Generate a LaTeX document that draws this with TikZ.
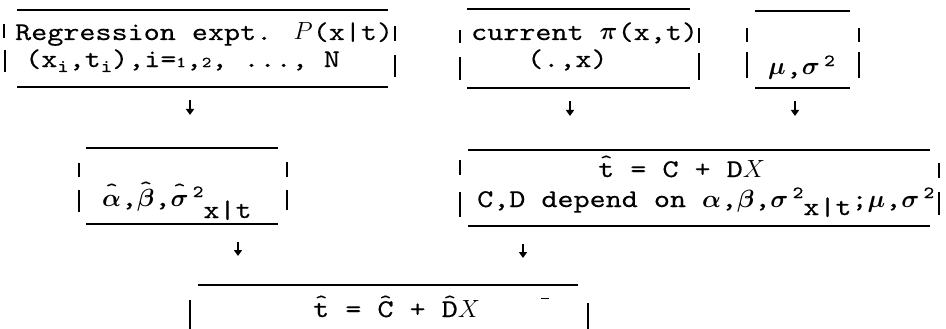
\documentclass[tikz,border=0pt]{standalone}
\usepackage{fontspec}
\usepackage{bm}
\usetikzlibrary{arrows.meta}
\newfontfamily\tw{lmmono10-regular.otf}[FakeStretch=1.2,FakeBold=0.3]
\newcommand\mysub[1]{\raisebox{-5pt}{\fontsize{18}{18}\selectfont #1}}
\newcommand\mysm[1]{{\fontsize{15}{15}\selectfont #1}}
\newcommand\tsup[1]{\raisebox{9pt}{\fontsize{17}{17}\selectfont #1}}
\newcommand\hh[2][9pt]{\ooalign{#2\cr\hidewidth\raisebox{#1}{\fontsize{20}{20}\selectfont\textasciicircum}\hidewidth\cr}}
\tikzset{
  hl/.style={line width=1.7pt},
  vb/.style={line width=2.2pt},
  arr/.style={line width=2.2pt,-{Triangle[length=6pt,width=8pt]}},
  txt/.style={anchor=base west,inner sep=0pt,font=\tw\fontsize{25.5}{30}\selectfont},
}
\begin{document}
\begin{tikzpicture}[x=1pt,y=-1pt]
\useasboundingbox (0,0) rectangle (946,329);
% box 1
\draw[hl] (17,10) -- (388,10);
\draw[hl] (17,87) -- (388,87);
\draw[vb] (4,24) -- (4,38);
\draw[vb] (5,50) -- (5,72);
\draw[vb] (395,26) -- (395,41);
\draw[vb] (395,55) -- (395,77);
\node[txt] (b1a) at (15,40) {Regression expt. $P$(x|t)};
\node[txt] (b1b) at (25,67) {(x\mysub{i},t\mysub{i}),i=\mysm{1},\mysm{2}, ..., N};
% box 2
\draw[hl] (467,9) -- (690,9);
\draw[hl] (467,88) -- (690,88);
\draw[vb] (460,30) -- (460,43);
\draw[vb] (460,57) -- (460,80);
\draw[vb] (699,28) -- (699,43);
\draw[vb] (699,53) -- (699,80);
\node[txt] (b2a) at (471,40) {current $\bm{\pi}$(x,t)};
\node[txt] (b2b) at (527,67) {(.,x)};
% box 3
\draw[hl] (755,11) -- (850,11);
\draw[hl] (755,88) -- (850,88);
\draw[vb] (747,28) -- (747,42);
\draw[vb] (747,52) -- (747,78);
\draw[vb] (859,28) -- (859,42);
\draw[vb] (859,52) -- (859,78);
\node[txt] (b3) at (768,75) {$\bm{\mu}$,$\bm{\sigma}$\,\tsup{2}};
% arrows
\coordinate (a1s) at (190,100); \coordinate (a1e) at (190,115);
\coordinate (a2s) at (570,101); \coordinate (a2e) at (570,116);
\coordinate (a3s) at (795,101); \coordinate (a3e) at (795,116);
\coordinate (a4s) at (238,242); \coordinate (a4e) at (238,256);
\coordinate (a5s) at (523,244); \coordinate (a5e) at (523,258);
\draw[arr] (a1s) -- (a1e);
\draw[arr] (a2s) -- (a2e);
\draw[arr] (a3s) -- (a3e);
\draw[arr] (a4s) -- (a4e);
\draw[arr] (a5s) -- (a5e);
% middle-left box
\draw[hl] (86,148) -- (278,148);
\draw[hl] (86,224) -- (278,224);
\draw[vb] (79,163) -- (79,177);
\draw[vb] (79,190) -- (79,212);
\draw[vb] (287,162) -- (287,177);
\draw[vb] (287,190) -- (287,210);
\node[txt] (bm) at (102,206) {\hh[10pt]{$\bm{\alpha}$},\hh[12pt]{$\bm{\beta}$},\hh[10pt]{$\bm{\sigma}$}\,\tsup{2}\raisebox{-12pt}{x|t}};
% box 4
\draw[hl] (468,150) -- (930,150);
\draw[hl] (468,226) -- (930,226);
\draw[vb] (460,160) -- (460,175);
\draw[vb] (460,192) -- (460,217);
\draw[vb] (939,163) -- (939,178);
\draw[vb] (939,192) -- (939,215);
\node[txt] (b4a) at (598,177) {\hh{t} = C + D$X$};
\node[txt] (b4b) at (477,207) {C,D depend on $\bm{\alpha}$,$\bm{\beta}$,$\bm{\sigma}$\,\tsup{2}\raisebox{-8pt}{x|t};$\bm{\mu}$,$\bm{\sigma}$\,\tsup{2}};
% bottom box
\draw[hl] (198,285) -- (578,285);
\draw[vb] (190,300) -- (190,329);
\draw[vb] (588,303) -- (588,329);
\node[txt] (b5) at (313,317) {\hh{t} = \hh{C} + \hh{D}$X$};
\draw[line width=1pt] (541,298) -- (549,298);
\end{tikzpicture}
\end{document}
